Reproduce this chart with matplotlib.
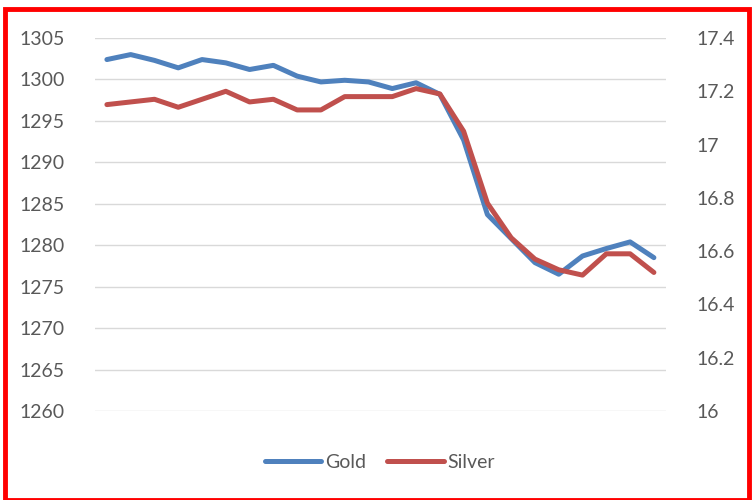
import numpy as np
import matplotlib.pyplot as plt
from matplotlib.patches import Rectangle

# values, one point per trading interval
gold = [1302.4, 1303.0, 1302.3, 1301.4, 1302.4, 1302.0, 1301.2, 1301.7,
        1300.4, 1299.7, 1299.9, 1299.7, 1298.9, 1299.6, 1298.2, 1292.7,
        1283.7, 1280.8, 1277.9, 1276.5, 1278.7, 1279.6, 1280.4, 1278.5]
silver = [17.15, 17.16, 17.17, 17.14, 17.17, 17.20, 17.16, 17.17,
          17.13, 17.13, 17.18, 17.18, 17.18, 17.21, 17.19, 17.05,
          16.78, 16.65, 16.57, 16.53, 16.51, 16.59, 16.59, 16.52]
gold_ticks = np.arange(1260, 1306, 5)
silver_ticks = [16, 16.2, 16.4, 16.6, 16.8, 17, 17.2, 17.4]
silver_labels = ["16", "16.2", "16.4", "16.6", "16.8", "17", "17.2", "17.4"]

plt.rcParams['font.family'] = ['Lato', 'DejaVu Sans']
txt_color = '#595959'
blue = '#4F81BD'
red = '#C0504D'

fig = plt.figure(figsize=(7.54, 5.0), dpi=100)
ax = fig.add_axes([0.126, 0.178, 0.757, 0.746])
ax2 = ax.twinx()

x = np.arange(len(gold))
l1, = ax.plot(x, gold, color=blue, lw=3.6, solid_capstyle='round',
              solid_joinstyle='round', label='Gold', zorder=3)
l2, = ax2.plot(x, silver, color=red, lw=3.6, solid_capstyle='round',
               solid_joinstyle='round', label='Silver', zorder=3)

ax.set_xlim(-0.5, len(gold) - 0.5)
ax.set_ylim(1260, 1305)
ax.set_yticks(gold_ticks)
ax.set_xticks([])
ax.yaxis.grid(True, color='#D9D9D9', lw=1.0)
ax.set_axisbelow(True)
ax.tick_params(axis='y', length=0, pad=22, labelsize=14, labelcolor=txt_color)

ax2.set_ylim(16, 17.4)
ax2.set_yticks(silver_ticks)
ax2.set_yticklabels(silver_labels)
ax2.tick_params(axis='y', length=0, pad=22, labelsize=14, labelcolor=txt_color)

for a in (ax, ax2):
    for s in a.spines.values():
        s.set_visible(False)

fig.legend(handles=[l1, l2], loc='center', bbox_to_anchor=(380 / 754, 1 - 462 / 500),
           ncol=2, frameon=False, fontsize=14, labelcolor=txt_color,
           handlelength=2.9, handletextpad=0.2, columnspacing=1.1)

# red frame round the whole chart
fig.patches.append(Rectangle((5 / 754, 0.0), 744 / 754, 1 - 9 / 500,
                             transform=fig.transFigure, fill=False,
                             edgecolor='#FF0000', lw=3.5))

plt.savefig('out.png', dpi=100)
plt.close()
